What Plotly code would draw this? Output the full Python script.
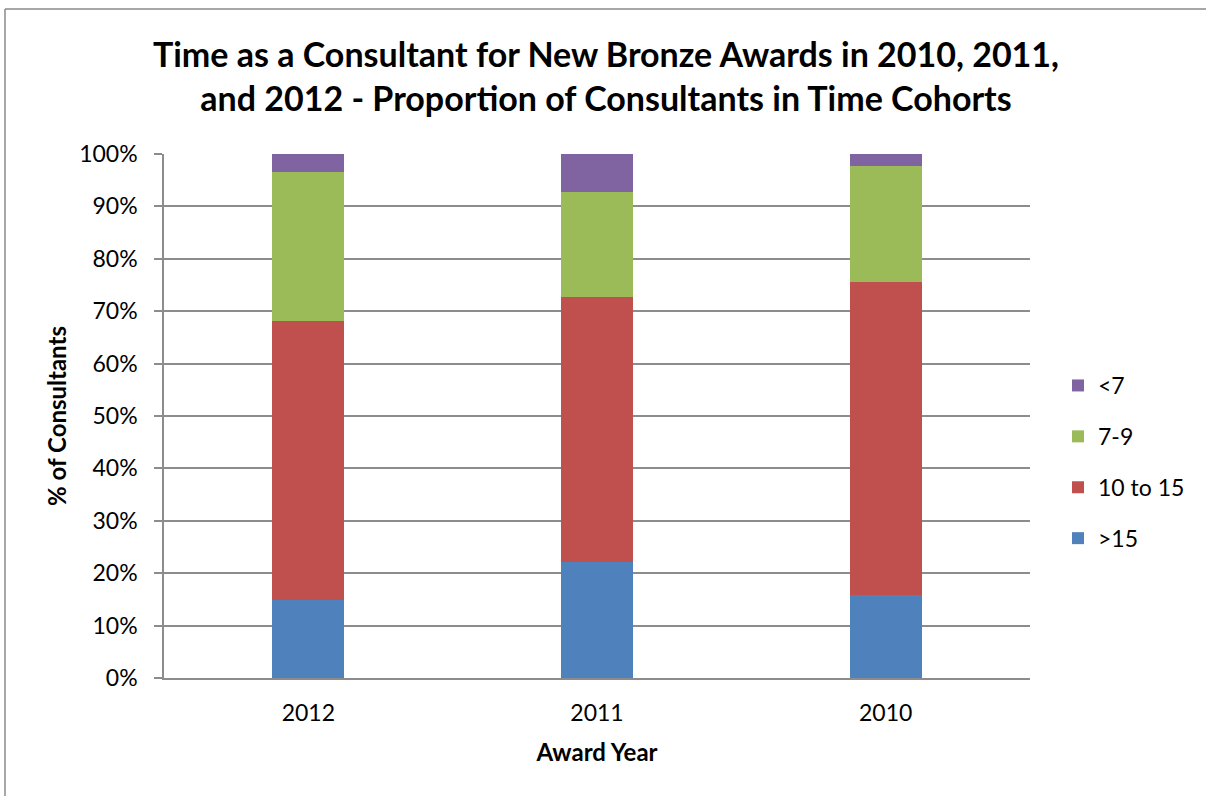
import plotly.graph_objects as go

# Award years shown on the category axis
years = ["2012", "2011", "2010"]

# Share of consultants (%) in each time cohort, per award year
over_15 = [14.8, 22.1, 15.8]
ten_to_15 = [53.4, 50.6, 59.8]
seven_to_9 = [28.4, 20.1, 22.2]
under_7 = [3.4, 7.2, 2.2]

# (name, values, colour, legend rank) – stacked bottom to top
series = [
    (">15", over_15, "#4F81BD", 4),
    ("10 to 15", ten_to_15, "#C0504D", 3),
    ("7-9", seven_to_9, "#9BBB59", 2),
    ("<7", under_7, "#8064A2", 1),
]

FONT = "Lato"
W, H = 1206, 796
L, R, T, B = 164, 176, 154, 118
PW, PH = W - L - R, H - T - B


def px_x(x):
    return (x - L) / PW


def px_y(y):
    return (H - B - y) / PH


fig = go.Figure()
for name, vals, color, rank in series:
    fig.add_trace(go.Bar(
        x=years, y=vals, name=name, legendgroup=name, legendrank=rank,
        marker=dict(color=color, line=dict(width=0)),
        hovertemplate="%{x}: %{y:.1f}%<extra>" + name + "</extra>",
    ))

grid = "#8c8c8c"
fig.update_layout(
    width=W, height=H,
    margin=dict(l=L, r=R, t=T, b=B, pad=0),
    paper_bgcolor="white", plot_bgcolor="white",
    barmode="stack", bargap=0.75,
    font=dict(family=FONT, size=23, color="black"),
    title=dict(
        text="Time as a Consultant for New Bronze Awards in 2010, 2011,<br>"
             "and 2012 - Proportion of Consultants in Time Cohorts",
        x=606 / W, xref="container", xanchor="center",
        y=1 - 67 / H, yref="container", yanchor="top",
        font=dict(family=FONT, size=34, color="black", weight="bold"),
    ),
    xaxis=dict(
        showline=True, linecolor=grid, linewidth=1.5,
        ticks="", showgrid=False,
        ticklabelstandoff=14,
        title=dict(text="Award Year", standoff=19,
                   font=dict(family=FONT, size=24, weight="bold")),
        tickfont=dict(size=23),
    ),
    yaxis=dict(
        range=[0, 100], dtick=10, ticksuffix="%",
        showline=True, linecolor=grid, linewidth=1.5,
        ticks="outside", ticklen=8, tickcolor=grid, tickwidth=1.5,
        showgrid=True, gridcolor=grid, gridwidth=1.5,
        zeroline=False,
        ticklabelstandoff=12,
        title=dict(text="% of Consultants", standoff=6,
                   font=dict(family=FONT, size=24, weight="bold")),
        tickfont=dict(size=23),
    ),
    legend=dict(
        traceorder="grouped", tracegroupgap=18,
        x=px_x(1058), xanchor="left",
        y=px_y(462), yanchor="middle",
        font=dict(size=23), bgcolor="rgba(0,0,0,0)",
        itemwidth=30,
    ),
    showlegend=True,
)

# Chart-area frame along the top and left edges
border = "#8a8a8a"
fig.add_shape(type="line", xref="paper", yref="paper",
              x0=px_x(5), x1=px_x(W + 5), y0=px_y(9), y1=px_y(9),
              line=dict(color=border, width=1.5))
fig.add_shape(type="line", xref="paper", yref="paper",
              x0=px_x(5), x1=px_x(5), y0=px_y(9), y1=px_y(H + 5),
              line=dict(color=border, width=1.5))

fig.write_html("out.html")
